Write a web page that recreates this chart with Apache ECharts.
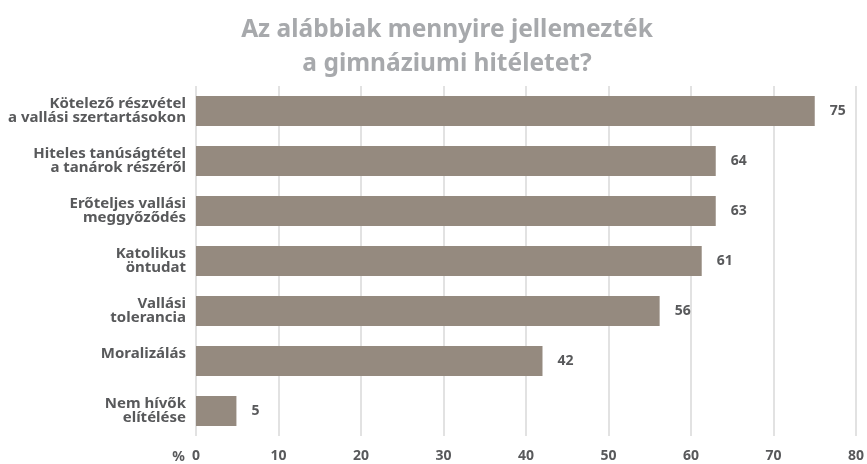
<!DOCTYPE html>
<html>
<head>
<meta charset="utf-8">
<script src="https://cdn.jsdelivr.net/npm/echarts@6/dist/echarts.min.js"></script>
<style>
  html, body { margin: 0; padding: 0; background: #fff; }
  #chart { width: 867px; height: 464px; }
</style>
</head>
<body>
<div id="chart"></div>
<script>
const categories = [
  'Kötelező részvétel\na vallási szertartásokon',
  'Hiteles tanúságtétel\na tanárok részéről',
  'Erőteljes vallási\nmeggyőződés',
  'Katolikus\nöntudat',
  'Vallási\ntolerancia',
  'Moralizálás\n ',
  'Nem hívők\nelítélése'
];
const values = [75, 63, 63, 61.3, 56.2, 42, 4.9];
const valueLabels = ['75', '64', '63', '61', '56', '42', '5'];
const xTicks = [0, 10, 20, 30, 40, 50, 60, 70, 80];

const chart = echarts.init(document.getElementById('chart'));
const fontFamily = '"Noto Sans", "Open Sans", sans-serif';

const option = {
  backgroundColor: '#fff',
  title: {
    text: 'Az alábbiak mennyire jellemezték\na gimnáziumi hitéletet?',
    left: 442,
    top: 8,
    textAlign: 'center',
    textStyle: {
      fontFamily: fontFamily,
      fontSize: 24.5,
      fontWeight: 'bold',
      color: '#a7a9ac',
      lineHeight: 34
    }
  },
  grid: {
    left: 196,
    right: 9,
    top: 86,
    bottom: 24,
    containLabel: false
  },
  xAxis: {
    type: 'value',
    min: xTicks[0],
    max: xTicks[xTicks.length - 1],
    interval: 10,
    name: '%',
    nameLocation: 'start',
    nameGap: 11,
    nameTextStyle: {
      fontFamily: fontFamily,
      fontSize: 14,
      fontWeight: 'bold',
      color: '#58595b',
      align: 'right',
      verticalAlign: 'top',
      padding: [14, 0, 0, 0]
    },
    axisLine: { show: false },
    axisTick: { show: false },
    axisLabel: {
      margin: 13,
      fontFamily: fontFamily,
      fontSize: 14,
      fontWeight: 'bold',
      color: '#58595b'
    },
    splitLine: {
      show: true,
      lineStyle: { color: '#d9d9d9', width: 1.5 }
    }
  },
  yAxis: {
    type: 'category',
    inverse: true,
    data: categories,
    axisLine: { show: false },
    axisTick: { show: false },
    axisLabel: {
      margin: 10,
      fontFamily: fontFamily,
      fontSize: 15,
      fontWeight: 'bold',
      color: '#58595b',
      lineHeight: 14
    }
  },
  series: [{
    type: 'bar',
    data: values,
    barWidth: 30,
    itemStyle: { color: '#958a7f' },
    label: {
      show: true,
      position: 'right',
      distance: 15,
      fontFamily: fontFamily,
      fontSize: 14,
      fontWeight: 'bold',
      color: '#58595b',
      formatter: function (p) { return valueLabels[p.dataIndex]; }
    }
  }]
};

chart.setOption(option);
</script>
</body>
</html>
